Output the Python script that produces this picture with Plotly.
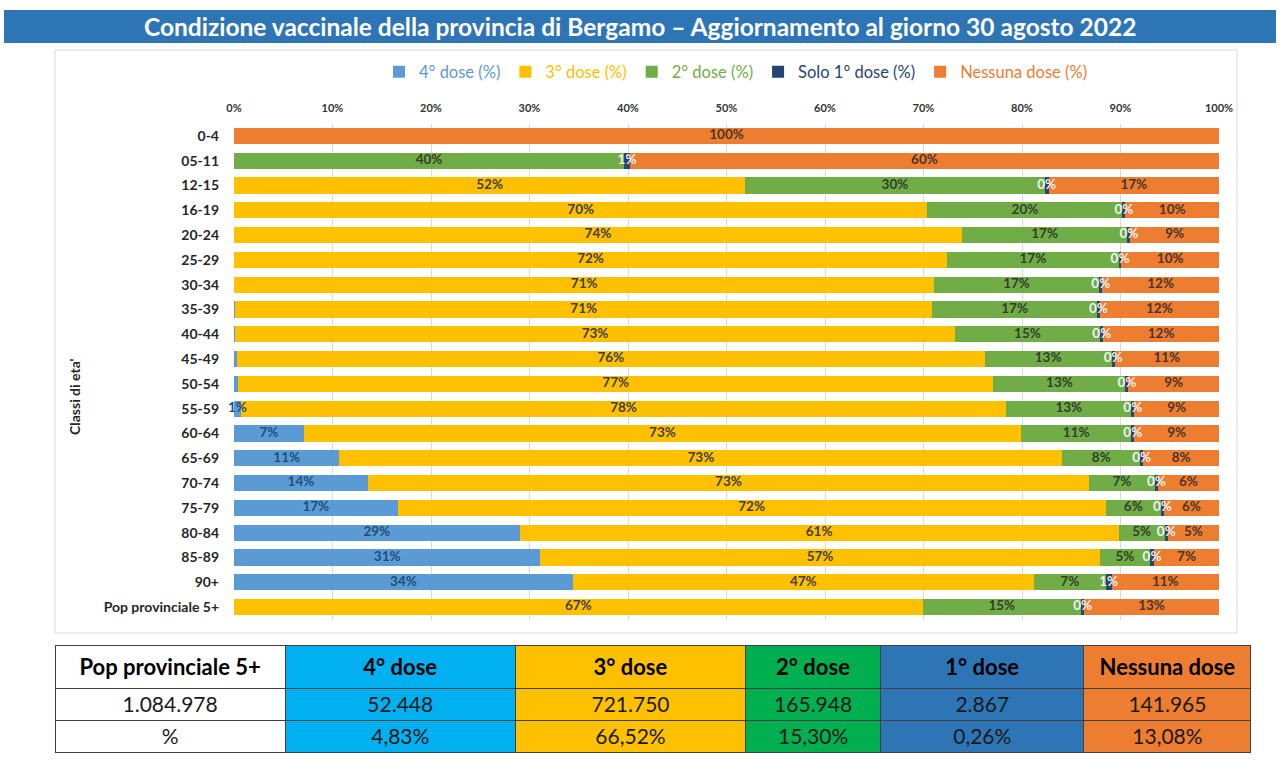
import plotly.graph_objects as go

# age classes (top to bottom) and shares per dose status, in %
ages = ["0-4", "05-11", "12-15", "16-19", "20-24", "25-29", "30-34", "35-39",
        "40-44", "45-49", "50-54", "55-59", "60-64", "65-69", "70-74", "75-79",
        "80-84", "85-89", "90+", "Pop provinciale 5+"]
dose4 = [0, 0, 0, 0, 0, 0, 0.05, 0.1, 0.15, 0.3, 0.4, 0.7, 7.1, 10.7, 13.6, 16.6, 29.0, 31.1, 34.4, 0]
dose3 = [0, 0, 51.9, 70.4, 73.9, 72.4, 71.0, 70.8, 73.0, 75.9, 76.7, 77.7, 72.8, 73.4, 73.2, 71.9, 60.8, 56.8, 46.8, 69.9]
dose2 = [0, 39.6, 30.4, 19.8, 16.8, 17.4, 16.8, 16.7, 14.8, 12.9, 13.4, 12.7, 11.2, 7.9, 6.7, 5.6, 4.7, 5.1, 7.3, 16.1]
dose1 = [0, 0.6, 0.4, 0.3, 0.3, 0.3, 0.3, 0.3, 0.3, 0.3, 0.3, 0.3, 0.3, 0.3, 0.3, 0.3, 0.3, 0.4, 0.6, 0.3]
nodose = [100, 59.8, 17.3, 9.5, 9.0, 9.9, 11.85, 12.1, 11.75, 10.6, 9.2, 8.6, 8.6, 7.7, 6.2, 5.6, 5.2, 6.6, 10.9, 13.7]
# labels printed on the "Pop provinciale 5+" bar
pop_labels = ["", "67%", "15%", "0%", "13%"]

x_ticks = [0, 10, 20, 30, 40, 50, 60, 70, 80, 90, 100]

# summary table
tab_header = ["Pop provinciale 5+", "4° dose", "3° dose", "2° dose", "1° dose", "Nessuna dose"]
tab_counts = ["1.084.978", "52.448", "721.750", "165.948", "2.867", "141.965"]
tab_pct = ["%", "4,83%", "66,52%", "15,30%", "0,26%", "13,08%"]

W, H = 1280, 779
FONT = "Lato, Open Sans, sans-serif"


def px_x(p):
    return p / W


def px_y(p):
    return 1 - p / H


series = [
    ("4° dose (%)", dose4, "#5B9BD5", "#1F4E79", 0.5),
    ("3° dose (%)", dose3, "#FFC000", "#3F3F3F", 0.01),
    ("2° dose (%)", dose2, "#70AD47", "#333F2A", 0.01),
    ("Solo 1° dose (%)", dose1, "#264478", "#F2F2F2", 0.01),
    ("Nessuna dose (%)", nodose, "#ED7D31", "#4A3528", 0.01),
]

fig = go.Figure()

for name, vals, col, tcol, thr in series:
    fig.add_trace(go.Bar(
        y=ages, x=vals, orientation="h", name="<span style='color:%s'>%s</span>" % (col, name),
        marker=dict(color=col, line=dict(width=0)), hoverinfo="x+y",
    ))

# labels at the centre of each segment
left = [0] * len(ages)
for k, (name, vals, col, tcol, thr) in enumerate(series):
    xs, ys, txt = [], [], []
    for i, v in enumerate(vals):
        if ages[i] == "Pop provinciale 5+":
            t = pop_labels[k]
        else:
            t = "%d%%" % int(v + 0.5) if v >= thr else ""
        if t:
            xs.append(left[i] + v / 2)
            ys.append(ages[i])
            txt.append(t)
        left[i] += v
    fig.add_trace(go.Scatter(
        x=xs, y=ys, text=txt, mode="text", showlegend=False, hoverinfo="skip", cliponaxis=False,
        textfont=dict(family=FONT, size=13.5, color=tcol, weight="bold"),
    ))

fig.update_layout(
    width=W, height=H, autosize=False,
    margin=dict(l=0, r=0, t=0, b=0, autoexpand=False),
    paper_bgcolor="white", plot_bgcolor="white",
    barmode="stack", bargap=0.35,
    font=dict(family=FONT, color="#333333"),
    legend=dict(orientation="h", x=0.575, xanchor="center", y=px_y(72), yanchor="middle",
                font=dict(size=16.5), itemwidth=30, traceorder="normal"),
    xaxis=dict(domain=[px_x(234), px_x(1219)], range=[0, 100], side="top",
               tickvals=x_ticks, ticktext=["%d%%" % t for t in x_ticks],
               showgrid=True, gridcolor="#D9D9D9",
               zeroline=False, showline=False, ticklabelstandoff=8,
               tickfont=dict(size=11, color="#333333", weight="bold")),
    yaxis=dict(type="category", domain=[px_y(619.5), px_y(123.5)], range=[len(ages) - 0.5, -0.5],
               categoryorder="array", categoryarray=ages, showgrid=False,
               ticklabelstandoff=14, tickfont=dict(size=14, color="#262626", weight="bold")),
    shapes=[
        dict(type="rect", xref="paper", yref="paper", x0=px_x(4), x1=px_x(1276),
             y0=px_y(43), y1=px_y(10), fillcolor="#2E75B6", line=dict(width=0), layer="below"),
        dict(type="rect", xref="paper", yref="paper", x0=px_x(55), x1=px_x(1237),
             y0=px_y(633), y1=px_y(50), fillcolor="white", line=dict(color="#D9D9D9", width=1),
             layer="below"),
    ],
    annotations=[
        dict(text="<b>Condizione vaccinale della provincia di Bergamo – Aggiornamento al giorno 30 agosto 2022</b>",
             xref="paper", yref="paper", x=0.5, y=px_y(26), xanchor="center", yanchor="middle",
             showarrow=False, font=dict(size=24.5, color="white", family=FONT)),
        dict(text="<b>Classi di eta'</b>", xref="paper", yref="paper", x=px_x(74), y=px_y(397),
             xanchor="center", yanchor="middle", textangle=-90, showarrow=False,
             font=dict(size=14, color="#262626", family=FONT)),
    ],
)

tab_fill = ["white", "#00B0F0", "#FFC000", "#00B050", "#2E75B6", "#ED7D31"]
fig.add_trace(go.Table(
    domain=dict(x=[px_x(55), px_x(1251)], y=[px_y(765), px_y(645)]),
    columnwidth=[230, 230, 230, 135, 203, 167],
    header=dict(values=["<b>%s</b>" % h.replace(" ", "\u00a0") for h in tab_header], fill_color=tab_fill,
                line=dict(color="#404040", width=1), align="center", height=36,
                font=dict(family=FONT, size=22, color="black")),
    cells=dict(values=[[c, p] for c, p in zip(tab_counts, tab_pct)], fill_color=tab_fill,
               line=dict(color="#404040", width=1), align="center", height=32,
               font=dict(family=FONT, size=21, color="#1a1a1a")),
))

fig.write_html("out.html", config=dict(displayModeBar=False, responsive=False),
               post_script="document.body.style.margin='0';")
